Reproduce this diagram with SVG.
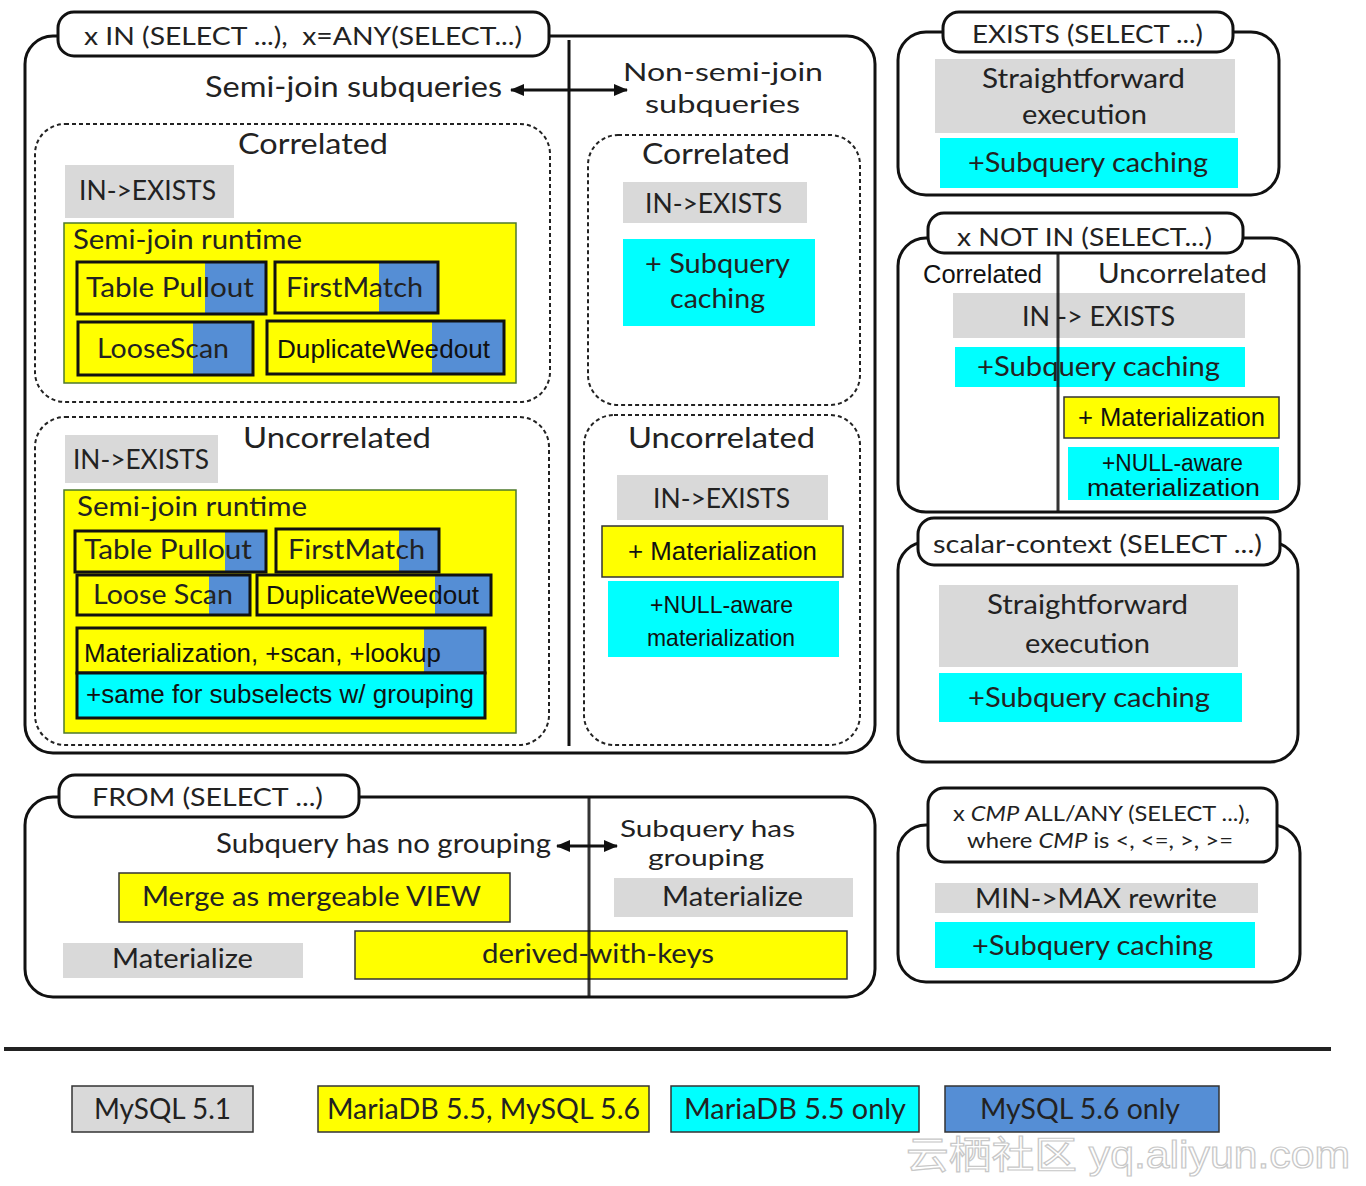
<svg xmlns="http://www.w3.org/2000/svg" width="1366" height="1186" viewBox="0 0 1366 1186">
<style>
.box{fill:#fff;stroke:#111;stroke-width:3}
.pill{fill:#fff;stroke:#111;stroke-width:3}
.dash{fill:none;stroke:#222;stroke-width:2;stroke-dasharray:4 3}
.gray{fill:#D9D9D9}
.cyan{fill:#00FFFF}
.yel{fill:#FFFF00}
.blue{fill:#558ED5}
.cont{fill:#FFFF00;stroke:#4E7A2C;stroke-width:1.5}
.item{fill:none;stroke:#111;stroke-width:3}
.thin{stroke:#333;stroke-width:1.5}
.div{stroke:#111;stroke-width:3}
.t{font-family:Lato,'Liberation Sans',sans-serif;fill:#222;font-size:27px}
.n{font-family:'Liberation Sans Narrow','Liberation Sans',sans-serif;fill:#111;font-size:26px}
.h{font-size:28px}
.p{font-size:25px}
.s{font-size:21px}
.arrow{stroke:#111;stroke-width:3;fill:none}
</style>
<defs>
<marker id="ah" markerUnits="userSpaceOnUse" markerWidth="14" markerHeight="12" refX="13" refY="6" orient="auto-start-reverse">
<path d="M0,0 L14,6 L0,12 Z" fill="#111"/>
</marker>
</defs>

<g id="node-in">
<rect class="box" x="25" y="36" width="850" height="717" rx="28"/>
<rect class="pill" x="58" y="12" width="491" height="44" rx="16"/>
<text class="t p" x="84" y="45" textLength="438" lengthAdjust="spacingAndGlyphs" xml:space="preserve">x IN (SELECT ...),  x=ANY(SELECT...)</text>
<text class="t h" x="205" y="97" textLength="297" lengthAdjust="spacingAndGlyphs">Semi-join subqueries</text>
<text class="t" x="623" y="81" textLength="200" lengthAdjust="spacingAndGlyphs" style="font-size:25px">Non-semi-join</text>
<text class="t" x="645" y="113" textLength="155" lengthAdjust="spacingAndGlyphs" style="font-size:25px">subqueries</text>
<line class="div" x1="569" y1="40" x2="569" y2="746"/>
</g>

<g id="node-sj-correlated">
<rect class="dash" x="35" y="124" width="515" height="278" rx="30"/>
<text class="t h" x="238" y="154" textLength="150" lengthAdjust="spacingAndGlyphs">Correlated</text>
<rect class="gray" x="65" y="165" width="169" height="53"/>
<text class="t" x="79" y="200" textLength="137" lengthAdjust="spacingAndGlyphs">IN-&gt;EXISTS</text>
<rect class="cont" x="64" y="223" width="452" height="160"/>
<text class="t" x="73" y="249" textLength="229" lengthAdjust="spacingAndGlyphs">Semi-join runtime</text>
<rect class="blue" x="205" y="262" width="61" height="52"/>
<rect class="item" x="77" y="262" width="189" height="52"/>
<text class="t" x="86" y="297" textLength="168" lengthAdjust="spacingAndGlyphs">Table Pullout</text>
<rect class="blue" x="379" y="262" width="59" height="51"/>
<rect class="item" x="275" y="262" width="163" height="51"/>
<text class="t" x="286" y="297" textLength="137" lengthAdjust="spacingAndGlyphs">FirstMatch</text>
<rect class="blue" x="193" y="322" width="60" height="53"/>
<rect class="item" x="78" y="322" width="175" height="53"/>
<text class="t" x="97" y="358" textLength="132" lengthAdjust="spacingAndGlyphs">LooseScan</text>
<rect class="blue" x="432" y="321" width="72" height="53"/>
<rect class="item" x="267" y="321" width="237" height="53"/>
<text class="n" x="277" y="358" textLength="213" lengthAdjust="spacingAndGlyphs">DuplicateWeedout</text>
</g>

<g id="node-sj-uncorrelated">
<rect class="dash" x="35" y="417" width="514" height="328" rx="30"/>
<text class="t h" x="243" y="448" textLength="188" lengthAdjust="spacingAndGlyphs">Uncorrelated</text>
<rect class="gray" x="65" y="435" width="153" height="48"/>
<text class="t" x="73" y="469" textLength="136" lengthAdjust="spacingAndGlyphs">IN-&gt;EXISTS</text>
<rect class="cont" x="64" y="490" width="452" height="243"/>
<text class="t" x="77" y="516" textLength="230" lengthAdjust="spacingAndGlyphs">Semi-join runtime</text>
<rect class="blue" x="225" y="531" width="41" height="41"/>
<rect class="item" x="75" y="531" width="191" height="41"/>
<text class="t" x="84" y="559" textLength="168" lengthAdjust="spacingAndGlyphs">Table Pullout</text>
<rect class="blue" x="399" y="529" width="40" height="43"/>
<rect class="item" x="276" y="529" width="163" height="43"/>
<text class="t" x="288" y="559" textLength="137" lengthAdjust="spacingAndGlyphs">FirstMatch</text>
<rect class="blue" x="209" y="575" width="41" height="40"/>
<rect class="item" x="77" y="575" width="173" height="40"/>
<text class="t" x="93" y="604" textLength="140" lengthAdjust="spacingAndGlyphs">Loose Scan</text>
<rect class="blue" x="435" y="575" width="56" height="40"/>
<rect class="item" x="257" y="575" width="234" height="40"/>
<text class="n" x="266" y="604" textLength="213" lengthAdjust="spacingAndGlyphs">DuplicateWeedout</text>
<rect class="blue" x="424" y="628" width="61" height="45"/>
<rect class="item" x="77" y="628" width="408" height="45"/>
<text class="n" x="84" y="662" textLength="357" lengthAdjust="spacingAndGlyphs">Materialization, +scan, +lookup</text>
<rect class="cyan" x="77" y="673" width="408" height="45"/>
<rect class="item" x="77" y="673" width="408" height="45"/>
<text class="n" x="86" y="703" textLength="388" lengthAdjust="spacingAndGlyphs">+same for subselects w/ grouping</text>
</g>

<g id="node-nsj-correlated">
<rect class="dash" x="588" y="135" width="272" height="270" rx="30"/>
<text class="t h" x="642" y="164" textLength="148" lengthAdjust="spacingAndGlyphs">Correlated</text>
<rect class="gray" x="623" y="182" width="184" height="41"/>
<text class="t" x="645" y="213" textLength="137" lengthAdjust="spacingAndGlyphs">IN-&gt;EXISTS</text>
<rect class="cyan" x="623" y="239" width="192" height="87"/>
<text class="t" x="645" y="273" textLength="145" lengthAdjust="spacingAndGlyphs">+ Subquery</text>
<text class="t" x="670" y="308" textLength="95" lengthAdjust="spacingAndGlyphs">caching</text>
</g>

<g id="node-nsj-uncorrelated">
<rect class="dash" x="584" y="415" width="276" height="330" rx="30"/>
<text class="t h" x="628" y="448" textLength="187" lengthAdjust="spacingAndGlyphs">Uncorrelated</text>
<rect class="gray" x="617" y="475" width="211" height="45"/>
<text class="t" x="653" y="508" textLength="137" lengthAdjust="spacingAndGlyphs">IN-&gt;EXISTS</text>
<rect class="yel thin" x="602" y="526" width="241" height="51"/>
<text class="n" x="628" y="560" textLength="189" lengthAdjust="spacingAndGlyphs">+ Materialization</text>
<rect class="cyan" x="608" y="581" width="231" height="76"/>
<text class="n" x="650" y="613" textLength="143" lengthAdjust="spacingAndGlyphs" style="font-size:24px">+NULL-aware</text>
<text class="n" x="647" y="646" textLength="148" lengthAdjust="spacingAndGlyphs" style="font-size:24px">materialization</text>
</g>

<g id="node-exists">
<rect class="box" x="898" y="32" width="381" height="163" rx="28"/>
<rect class="pill" x="943" y="12" width="290" height="40" rx="16"/>
<text class="t p" x="972" y="43" textLength="231" lengthAdjust="spacingAndGlyphs">EXISTS (SELECT ...)</text>
<rect class="gray" x="935" y="59" width="300" height="74"/>
<text class="t" x="982" y="88" textLength="203" lengthAdjust="spacingAndGlyphs">Straightforward</text>
<text class="t" x="1022" y="124" textLength="125" lengthAdjust="spacingAndGlyphs">execution</text>
<rect class="cyan" x="940" y="138" width="298" height="50"/>
<text class="t" x="968" y="172" textLength="240" lengthAdjust="spacingAndGlyphs">+Subquery caching</text>
</g>

<g id="node-notin">
<rect class="box" x="898" y="238" width="401" height="274" rx="28"/>
<rect class="pill" x="928" y="213" width="315" height="40" rx="16"/>
<text class="t p" x="957" y="246" textLength="255" lengthAdjust="spacingAndGlyphs">x NOT IN (SELECT...)</text>
<text class="n" x="923" y="283" textLength="119" lengthAdjust="spacingAndGlyphs">Correlated</text>
<text class="t" x="1098" y="283" textLength="169" lengthAdjust="spacingAndGlyphs">Uncorrelated</text>
<rect class="gray" x="953" y="293" width="292" height="45"/>
<text class="t" x="1022" y="326" textLength="153" lengthAdjust="spacingAndGlyphs">IN -&gt; EXISTS</text>
<rect class="cyan" x="955" y="347" width="290" height="40"/>
<text class="t" x="977" y="376" textLength="243" lengthAdjust="spacingAndGlyphs">+Subquery caching</text>
<rect class="yel thin" x="1064" y="397" width="215" height="41"/>
<text class="n" x="1078" y="426" textLength="187" lengthAdjust="spacingAndGlyphs">+ Materialization</text>
<rect class="cyan" x="1068" y="447" width="211" height="53"/>
<text class="n" x="1102" y="471" textLength="141" lengthAdjust="spacingAndGlyphs" style="font-size:23px">+NULL-aware</text>
<text class="n" x="1087" y="496" textLength="173" lengthAdjust="spacingAndGlyphs" style="font-size:23px">materialization</text>
<line class="div" x1="1058" y1="254" x2="1058" y2="512" style="opacity:0.85"/>
</g>

<g id="node-scalar">
<rect class="box" x="898" y="542" width="400" height="220" rx="28"/>
<rect class="pill" x="918" y="518" width="362" height="47" rx="16"/>
<text class="t p" x="933" y="553" textLength="329" lengthAdjust="spacingAndGlyphs">scalar-context (SELECT ...)</text>
<rect class="gray" x="939" y="585" width="299" height="82"/>
<text class="t" x="987" y="614" textLength="201" lengthAdjust="spacingAndGlyphs">Straightforward</text>
<text class="t" x="1025" y="653" textLength="125" lengthAdjust="spacingAndGlyphs">execution</text>
<rect class="cyan" x="939" y="673" width="303" height="49"/>
<text class="t" x="968" y="707" textLength="242" lengthAdjust="spacingAndGlyphs">+Subquery caching</text>
</g>

<g id="node-cmp">
<rect class="box" x="898" y="825" width="402" height="157" rx="28"/>
<rect class="pill" x="928" y="788" width="349" height="74" rx="16"/>
<text class="t s" x="953" y="821" textLength="297" lengthAdjust="spacingAndGlyphs">x <tspan font-style="italic">CMP</tspan> ALL/ANY (SELECT ...),</text>
<text class="t s" x="967" y="848" textLength="266" lengthAdjust="spacingAndGlyphs">where <tspan font-style="italic">CMP</tspan> is &lt;, &lt;=, &gt;, &gt;=</text>
<rect class="gray" x="935" y="883" width="323" height="30"/>
<text class="t" x="975" y="908" textLength="242" lengthAdjust="spacingAndGlyphs">MIN-&gt;MAX rewrite</text>
<rect class="cyan" x="935" y="922" width="320" height="46"/>
<text class="t" x="972" y="955" textLength="241" lengthAdjust="spacingAndGlyphs">+Subquery caching</text>
</g>

<g id="node-from">
<rect class="box" x="25" y="797" width="850" height="200" rx="28"/>
<rect class="pill" x="59" y="775" width="300" height="42" rx="16"/>
<text class="t p" x="92" y="806" textLength="231" lengthAdjust="spacingAndGlyphs">FROM (SELECT ...)</text>
<text class="t" x="216" y="853" textLength="335" lengthAdjust="spacingAndGlyphs">Subquery has no grouping</text>
<text class="t" x="620" y="837" textLength="175" lengthAdjust="spacingAndGlyphs" style="font-size:24px">Subquery has</text>
<text class="t" x="648" y="866" textLength="116" lengthAdjust="spacingAndGlyphs" style="font-size:24px">grouping</text>
<rect class="yel thin" x="119" y="873" width="391" height="49"/>
<text class="t" x="142" y="906" textLength="339" lengthAdjust="spacingAndGlyphs">Merge as mergeable VIEW</text>
<rect class="gray" x="614" y="878" width="239" height="39"/>
<text class="t" x="662" y="906" textLength="141" lengthAdjust="spacingAndGlyphs">Materialize</text>
<rect class="gray" x="63" y="943" width="240" height="35"/>
<text class="t" x="112" y="968" textLength="141" lengthAdjust="spacingAndGlyphs">Materialize</text>
<rect class="yel thin" x="355" y="931" width="492" height="48"/>
<text class="t" x="482" y="963" textLength="232" lengthAdjust="spacingAndGlyphs">derived-with-keys</text>
<line class="div" x1="589" y1="798" x2="589" y2="996" style="opacity:0.85"/>
</g>

<g id="connectors">
<line class="arrow" x1="511" y1="90" x2="627" y2="90" marker-start="url(#ah)" marker-end="url(#ah)"/>
<line class="arrow" x1="557" y1="846" x2="617" y2="846" marker-start="url(#ah)" marker-end="url(#ah)"/>
</g>

<g id="legend">
<line x1="4" y1="1049" x2="1331" y2="1049" stroke="#222" stroke-width="4"/>
<rect class="gray thin" x="72" y="1086" width="181" height="46"/>
<text class="t h" x="94" y="1119" textLength="137" lengthAdjust="spacingAndGlyphs">MySQL 5.1</text>
<rect class="yel thin" x="318" y="1086" width="331" height="46"/>
<text class="t h" x="327" y="1119" textLength="313" lengthAdjust="spacingAndGlyphs">MariaDB 5.5, MySQL 5.6</text>
<rect class="cyan thin" x="671" y="1086" width="248" height="46"/>
<text class="t h" x="684" y="1119" textLength="222" lengthAdjust="spacingAndGlyphs">MariaDB 5.5 only</text>
<rect class="blue thin" x="945" y="1086" width="274" height="46"/>
<text class="t h" x="980" y="1119" textLength="200" lengthAdjust="spacingAndGlyphs">MySQL 5.6 only</text>
</g>

<text x="906" y="1168" textLength="444" lengthAdjust="spacingAndGlyphs" style="font-family:'Liberation Sans','Noto Sans CJK SC',sans-serif;font-size:38px;fill:#fff;stroke:#c8c8c8;stroke-width:1.2">云栖社区 yq.aliyun.com</text>
</svg>
